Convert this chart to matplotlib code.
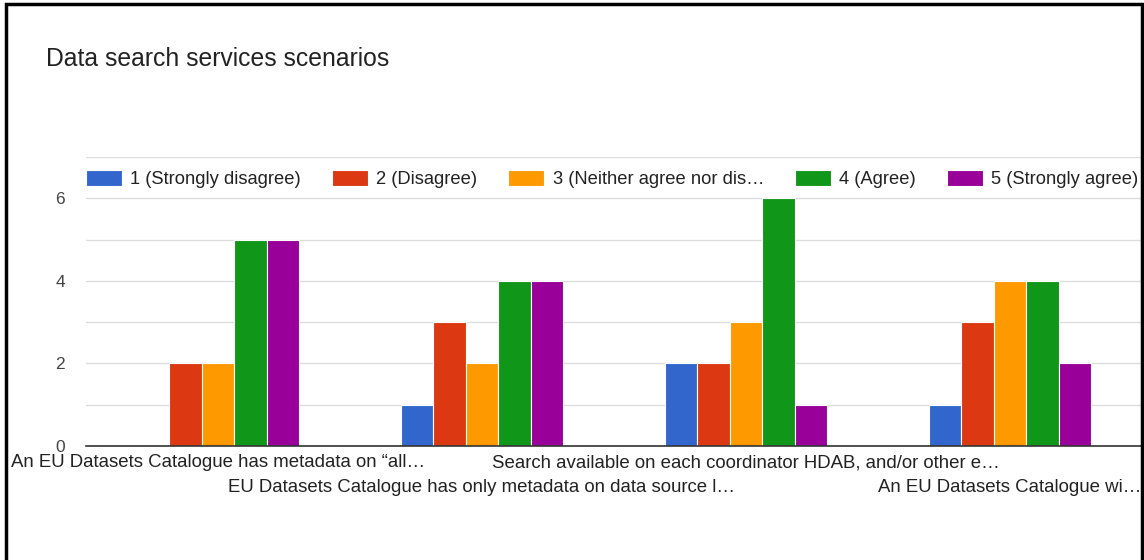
import matplotlib
matplotlib.use("Agg")
from matplotlib import pyplot as plt
from matplotlib.patches import Rectangle
import numpy as np

plt.rcParams['font.family'] = ['Liberation Sans', 'DejaVu Sans']

title = "Data search services scenarios"
scenarios = [
    "An EU Datasets Catalogue has metadata on \u201call\u2026",
    "EU Datasets Catalogue has only metadata on data source l\u2026",
    "Search available on each coordinator HDAB, and/or other e\u2026",
    "An EU Datasets Catalogue wi\u2026",
]
answers = [
    "1 (Strongly disagree)",
    "2 (Disagree)",
    "3 (Neither agree nor dis\u2026",
    "4 (Agree)",
    "5 (Strongly agree)",
]
colors = ["#3366cc", "#dc3912", "#ff9900", "#109618", "#990099"]

# responses per scenario, one list per answer option
strongly_disagree = [0, 1, 2, 1]
disagree = [2, 3, 2, 3]
neutral = [2, 2, 3, 4]
agree = [5, 4, 6, 4]
strongly_agree = [5, 4, 1, 2]
counts = [strongly_disagree, disagree, neutral, agree, strongly_agree]

W, H = 1144, 560
fig = plt.figure(figsize=(W / 100, H / 100), dpi=100)
ax = fig.add_axes([86 / W, 1 - 446 / H, (1142 - 86) / W, (446 - 157) / H])

x = np.arange(len(scenarios))
group_w = 0.615
bar_w = group_w / len(answers)
for i, (vals, c, lab) in enumerate(zip(counts, colors, answers)):
    offs = (i - (len(answers) - 1) / 2) * bar_w
    ax.bar(x + offs, vals, bar_w, color=c, edgecolor="white", linewidth=0.8,
           label=lab, zorder=3)

ax.set_xlim(-0.5, len(scenarios) - 0.5)
ax.set_ylim(0, 7)
ax.set_yticks([0, 2, 4, 6])
ax.set_yticks([1, 3, 5, 7], minor=True)
ax.grid(axis="y", which="both", color="#dddddd", linewidth=1, zorder=0)
ax.tick_params(axis="y", which="both", length=0, pad=15, labelsize=12.5,
               labelcolor="#444444")

# long category labels alternate between two rows: even ones as major
# ticks, odd ones as minor ticks pushed further down
ax.set_xticks(x[::2], [scenarios[k] for k in x[::2]])
ax.set_xticks(x[1::2], [scenarios[k] for k in x[1::2]], minor=True)
ax.tick_params(axis="x", which="both", length=0, labelsize=13.4,
               labelcolor="#222222")
ax.tick_params(axis="x", which="major", pad=6)
ax.tick_params(axis="x", which="minor", pad=24)
ax.grid(axis="x", which="both", visible=False)

for side in ["top", "right", "left"]:
    ax.spines[side].set_visible(False)
ax.spines["bottom"].set_color("#333333")
ax.spines["bottom"].set_linewidth(1.2)
ax.spines["bottom"].set_zorder(4)

ax.legend(loc="center left", bbox_to_anchor=(0.0, 6.47 / 7), ncol=5,
          frameon=False, fontsize=13.2, handlelength=1.97, handleheight=0.95,
          handletextpad=0.45, columnspacing=1.68, borderaxespad=0,
          borderpad=0, labelcolor="#222222")

fig.text(46 / W, 1 - 66 / H, title, fontsize=17.8, color="#222222",
         va="baseline", ha="left")

# dark frame around the card
fig.patches.append(Rectangle((6 / W, -0.05), (1142 - 6) / W, (1.05 - 4 / H),
                             transform=fig.transFigure, fill=False,
                             edgecolor="black", linewidth=2.5, zorder=10))

fig.savefig("out.png", dpi=100)
